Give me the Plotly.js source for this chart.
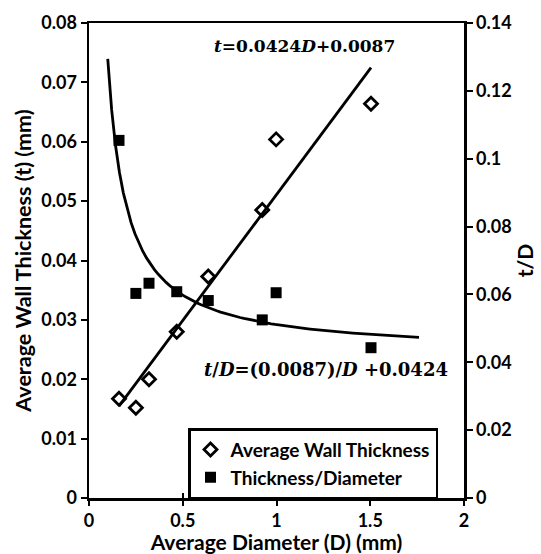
<!DOCTYPE html>
<html>
<head>
<meta charset="utf-8">
<script src="https://cdn.plot.ly/plotly-3.0.1.min.js"></script>
<style>html,body{margin:0;padding:0;background:#fff;}#chart{width:541px;height:554px;}</style>
</head>
<body>
<div id="chart"></div>
<script>
// Data
const diameter = [0.16, 0.25, 0.32, 0.468, 0.636, 0.924, 0.998, 1.504];
const wallThickness = [0.0167, 0.0152, 0.0200, 0.0280, 0.0373, 0.0485, 0.0604, 0.0664];
const thicknessRatio = [0.1054, 0.0603, 0.0633, 0.0608, 0.0582, 0.0525, 0.0605, 0.0443];

// Trendline equations shown on the chart
const linearCoef = [0.0424, 0.0087];     // t = a*D + b
const linearRange = [0.16, 1.504];
const inverseCoef = [0.0087, 0.0424];    // t/D = a/D + b
const inverseRange = [0.1, 1.76];

// Tick values and labels
const xTickVals = [0, 0.5, 1, 1.5, 2];
const xTickText = ['0', '0.5', '1', '1.5', '2'];
const yTickVals = [0, 0.01, 0.02, 0.03, 0.04, 0.05, 0.06, 0.07, 0.08];
const yTickText = ['0', '0.01', '0.02', '0.03', '0.04', '0.05', '0.06', '0.07', '0.08'];
const y2TickVals = [0, 0.02, 0.04, 0.06, 0.08, 0.1, 0.12, 0.14];
const y2TickText = ['0', '0.02', '0.04', '0.06', '0.08', '0.1', '0.12', '0.14'];

const bold = arr => arr.map(s => '<b>' + s + '</b>');

const linX = linearRange.slice();
const linY = linX.map(d => linearCoef[0] * d + linearCoef[1]);
const invX = [];
const nInv = 80;
for (let i = 0; i <= nInv; i++) {
  invX.push(inverseRange[0] + (inverseRange[1] - inverseRange[0]) * i / nInv);
}
const invY = invX.map(d => inverseCoef[0] / d + inverseCoef[1]);

const FONT = 'Lato, "Open Sans", sans-serif';
const EQFONT = '"DejaVu Serif", "Liberation Serif", serif';

const traces = [
  {x: linX, y: linY, type: 'scatter', mode: 'lines', line: {color: '#000', width: 2.8},
   showlegend: false, hoverinfo: 'skip', xaxis: 'x', yaxis: 'y'},
  {x: invX, y: invY, type: 'scatter', mode: 'lines', line: {color: '#000', width: 2.8},
   showlegend: false, hoverinfo: 'skip', xaxis: 'x', yaxis: 'y2'},
  {x: diameter, y: wallThickness, type: 'scatter', mode: 'markers', name: '<b>Average Wall Thickness</b>',
   legendgroup: 'a',
   marker: {symbol: 'diamond-open', size: 10, color: '#000', line: {color: '#000', width: 2.8}},
   xaxis: 'x', yaxis: 'y'},
  {x: diameter, y: thicknessRatio, type: 'scatter', mode: 'markers', name: '<b>Thickness/Diameter</b>',
   legendgroup: 'b',
   marker: {symbol: 'square', size: 11, color: '#000'},
   xaxis: 'x', yaxis: 'y2'},
  {x: [0], y: [0], type: 'scatter', mode: 'markers', marker: {opacity: 0},
   showlegend: false, hoverinfo: 'skip', xaxis: 'x2', yaxis: 'y'}
];

const layout = {
  width: 541, height: 554,
  margin: {l: 89, r: 77, t: 23, b: 56},
  paper_bgcolor: '#fff', plot_bgcolor: '#fff',
  font: {family: FONT, color: '#000', size: 18},
  showlegend: true,
  xaxis: {
    range: [0, 2], tickvals: xTickVals, ticktext: bold(xTickText),
    ticks: 'outside', ticklen: 5, tickwidth: 2, tickcolor: '#000',
    showline: true, linecolor: '#000', linewidth: 2.5, mirror: true, showgrid: false, zeroline: false,
    tickfont: {family: FONT, size: 18, color: '#000'},
    title: {text: '<b>Average Diameter (D) (mm)</b>', font: {family: FONT, size: 21, color: '#000'}, standoff: 0}
  },
  xaxis2: {
    overlaying: 'x', anchor: 'y', side: 'bottom', range: [0, 2], tickvals: xTickVals,
    ticks: 'inside', ticklen: 5, tickwidth: 2, tickcolor: '#000',
    showticklabels: false, showline: false, showgrid: false, zeroline: false
  },
  yaxis: {
    range: [0, 0.08], tickvals: yTickVals, ticktext: bold(yTickText),
    ticks: 'outside', ticklen: 6, tickwidth: 2, tickcolor: '#000',
    showline: true, linecolor: '#000', linewidth: 2.5, showgrid: false, zeroline: false,
    tickfont: {family: FONT, size: 18, color: '#000'},
    title: {text: '<b>Average Wall Thickness (t) (mm)</b>', font: {family: FONT, size: 21.5, color: '#000'}, standoff: 4}
  },
  yaxis2: {
    overlaying: 'y', side: 'right', anchor: 'x', range: [0, 0.14], tickvals: y2TickVals, ticktext: bold(y2TickText),
    ticks: 'outside', ticklen: 6, tickwidth: 2, tickcolor: '#000',
    showline: true, linecolor: '#000', linewidth: 2.5, showgrid: false, zeroline: false,
    tickfont: {family: FONT, size: 18, color: '#000'},
    title: {text: '<b>t/D</b>', font: {family: FONT, size: 21, color: '#000'}, standoff: 8}
  },
  legend: {
    x: 0.264, y: 0.147, xanchor: 'left', yanchor: 'top',
    bgcolor: '#fff', bordercolor: '#000', borderwidth: 2.5,
    font: {family: FONT, size: 19, color: '#000'},
    tracegroupgap: 0, itemwidth: 30
  },
  annotations: [
    {x: 1.147, y: 0.0761, xref: 'x', yref: 'y', showarrow: false,
     text: '<b><i>t</i>=0.0424<i>D</i>+0.0087</b>',
     font: {family: EQFONT, size: 17, color: '#000'}},
    {x: 1.264, y: 0.02156, xref: 'x', yref: 'y', showarrow: false,
     text: '<b><i>t</i>/<i>D</i>=(0.0087)/<i>D</i> +0.0424</b>',
     font: {family: EQFONT, size: 18, color: '#000'}}
  ]
};

Plotly.newPlot('chart', traces, layout, {staticPlot: true, displayModeBar: false});
</script>
</body>
</html>
